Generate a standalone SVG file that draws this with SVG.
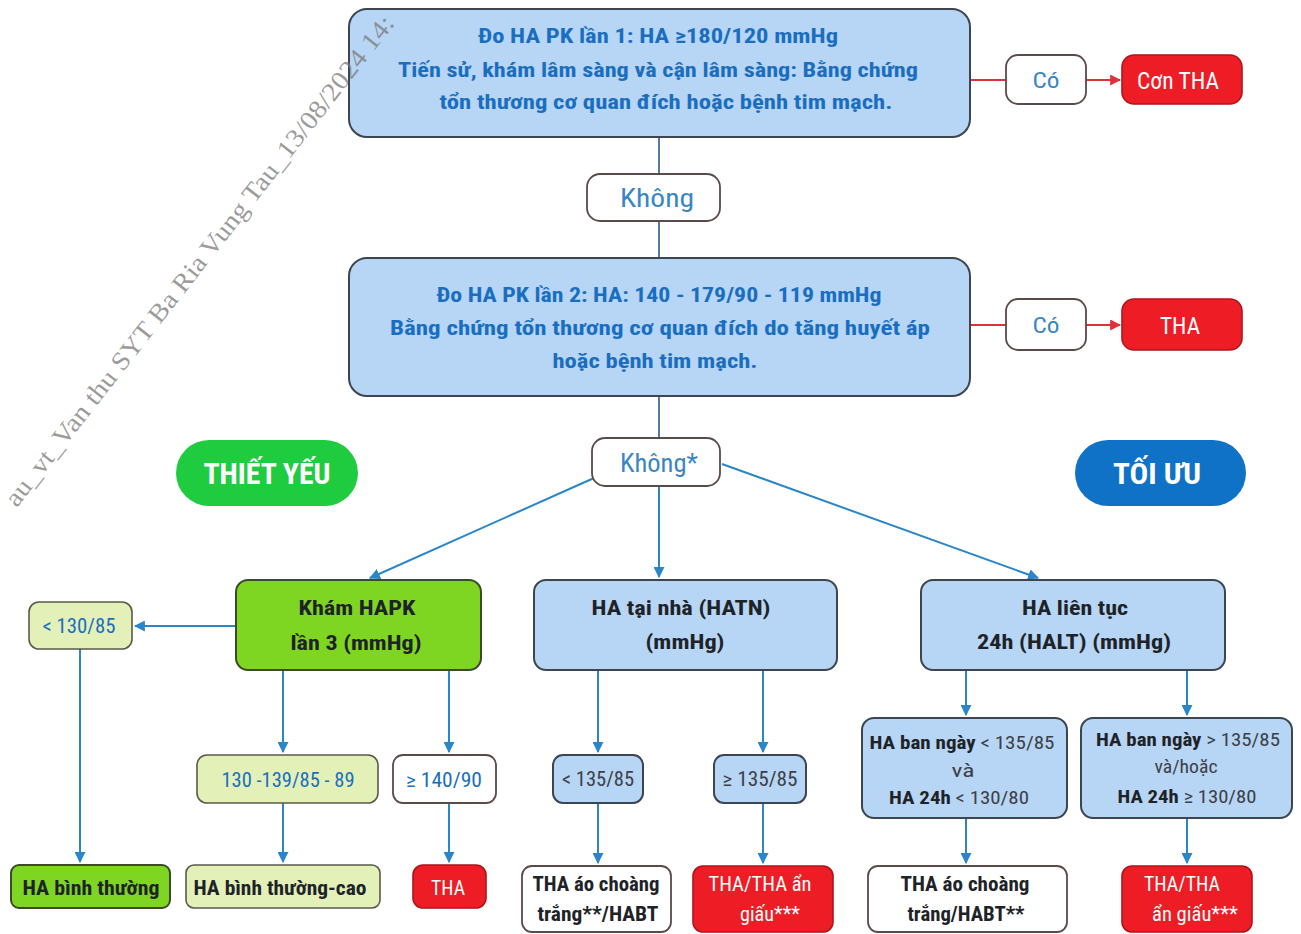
<svg xmlns="http://www.w3.org/2000/svg" width="1301" height="934" viewBox="0 0 1301 934">
<style>
.t{font-family:"Liberation Sans Narrow","Roboto Condensed","Liberation Sans",Arial,sans-serif;text-anchor:middle}
.b{font-weight:bold}
.blue{fill:#1a6ec0}
.dk{fill:#1e2328}
.lbl{fill:#3a86c4}
.wh{fill:#ffffff}
.gray{fill:#3c4048}
.nb{fill:#b7d5f4;stroke:#3d4550;stroke-width:2}
.ny{fill:#e3f1b8;stroke:#5a5a4a;stroke-width:1.6}
.ng{fill:#7fd622;stroke:#3c4a2c;stroke-width:2}
.nr{fill:#ee1c25;stroke:#b0141a;stroke-width:1.6}
.nw{fill:#ffffff;stroke:#5a4a4a;stroke-width:1.8}
.c{fill:none;stroke:#2a86c8;stroke-width:2}
.ck{fill:none;stroke:#2a5a8a;stroke-width:1.6}
.cr{fill:none;stroke:#e0303a;stroke-width:2}
</style>
<defs>
<marker id="ab" viewBox="0 0 10 10" refX="9" refY="5" markerWidth="5.5" markerHeight="5.5" orient="auto"><path d="M0,0L10,5L0,10z" fill="#2a86c8"/></marker>
<marker id="ar" viewBox="0 0 10 10" refX="9" refY="5" markerWidth="5.5" markerHeight="5.5" orient="auto"><path d="M0,0L10,5L0,10z" fill="#e0303a"/></marker>
</defs>
<rect width="1301" height="934" fill="#ffffff"/>

<g id="connectors">
<path class="ck" d="M659,137V174M659,221V258M659,396V438"/>
<path class="cr" d="M970,80H1006"/>
<path class="cr" d="M1086,80H1120" marker-end="url(#ar)"/>
<path class="cr" d="M970,325H1006"/>
<path class="cr" d="M1086,325H1120" marker-end="url(#ar)"/>
<path class="c" d="M659,486V577" marker-end="url(#ab)"/>
<path class="c" d="M594,478L370,578" marker-end="url(#ab)"/>
<path class="c" d="M722,464L1038,578" marker-end="url(#ab)"/>
<path class="c" d="M236,626H135" marker-end="url(#ab)"/>
<path class="c" d="M80,649V862" marker-end="url(#ab)"/>
<path class="c" d="M283,670V752" marker-end="url(#ab)"/>
<path class="c" d="M449,670V752" marker-end="url(#ab)"/>
<path class="c" d="M283,803V862" marker-end="url(#ab)"/>
<path class="c" d="M449,803V862" marker-end="url(#ab)"/>
<path class="c" d="M598,670V752" marker-end="url(#ab)"/>
<path class="c" d="M763,670V752" marker-end="url(#ab)"/>
<path class="c" d="M598,803V863" marker-end="url(#ab)"/>
<path class="c" d="M763,803V863" marker-end="url(#ab)"/>
<path class="c" d="M966,670V715" marker-end="url(#ab)"/>
<path class="c" d="M1187,670V715" marker-end="url(#ab)"/>
<path class="c" d="M966,818V863" marker-end="url(#ab)"/>
<path class="c" d="M1187,818V863" marker-end="url(#ab)"/>
</g>

<g id="n-step1">
<rect class="nb" x="349" y="9" width="621" height="128" rx="18"/>
<text class="t b blue" x="658" y="43" font-size="21" textLength="360" lengthAdjust="spacingAndGlyphs">Đo HA PK lần 1: HA ≥180/120 mmHg</text>
<text class="t b blue" x="658" y="77" font-size="21" textLength="520" lengthAdjust="spacingAndGlyphs">Tiến sử, khám lâm sàng và cận lâm sàng: Bằng chứng</text>
<text class="t b blue" x="666" y="109" font-size="21" textLength="453" lengthAdjust="spacingAndGlyphs">tổn thương cơ quan đích hoặc bệnh tim mạch.</text>
</g>
<g id="n-co1">
<rect class="nw" x="1006" y="55" width="80" height="49" rx="12"/>
<text class="t lbl" x="1046" y="88" font-size="22" textLength="27" lengthAdjust="spacingAndGlyphs">Có</text>
</g>
<g id="n-conTHA">
<rect class="nr" x="1122" y="55" width="120" height="49" rx="12"/>
<text class="t wh" x="1178" y="89" font-size="24" textLength="82" lengthAdjust="spacingAndGlyphs">Cơn THA</text>
</g>
<g id="n-khong1">
<rect class="nw" x="587" y="174" width="133" height="47" rx="13"/>
<text class="t lbl" x="657" y="207" font-size="25" textLength="74" lengthAdjust="spacingAndGlyphs">Không</text>
</g>

<g id="n-step2">
<rect class="nb" x="349" y="258" width="621" height="138" rx="18"/>
<text class="t b blue" x="659" y="302" font-size="21" textLength="445" lengthAdjust="spacingAndGlyphs">Đo HA PK lần 2: HA: 140 - 179/90 - 119 mmHg</text>
<text class="t b blue" x="660" y="335" font-size="21" textLength="540" lengthAdjust="spacingAndGlyphs">Bằng chứng tổn thương cơ quan đích do tăng huyết áp</text>
<text class="t b blue" x="655" y="368" font-size="21" textLength="205" lengthAdjust="spacingAndGlyphs">hoặc bệnh tim mạch.</text>
</g>
<g id="n-co2">
<rect class="nw" x="1006" y="299" width="80" height="51" rx="12"/>
<text class="t lbl" x="1046" y="333" font-size="22" textLength="27" lengthAdjust="spacingAndGlyphs">Có</text>
</g>
<g id="n-THA1">
<rect class="nr" x="1122" y="299" width="120" height="51" rx="12"/>
<text class="t wh" x="1180" y="334" font-size="24" textLength="40" lengthAdjust="spacingAndGlyphs">THA</text>
</g>
<g id="n-khong2">
<rect class="nw" x="592" y="438" width="128" height="48" rx="13"/>
<text class="t lbl" x="659" y="472" font-size="25" textLength="78" lengthAdjust="spacingAndGlyphs">Không*</text>
</g>

<g id="n-thietyeu">
<rect x="176" y="440" width="182" height="66" rx="33" fill="#1fcb3f"/>
<text class="t b wh" x="267" y="484" font-size="30" textLength="127" lengthAdjust="spacingAndGlyphs">THIẾT YẾU</text>
</g>
<g id="n-toiuu">
<rect x="1075" y="440" width="171" height="66" rx="33" fill="#0f72c6"/>
<text class="t b wh" x="1157" y="484" font-size="30" textLength="88" lengthAdjust="spacingAndGlyphs">TỐI ƯU</text>
</g>

<g id="n-kham3">
<rect class="ng" x="236" y="580" width="245" height="90" rx="12"/>
<text class="t b dk" x="357" y="615" font-size="21" textLength="117" lengthAdjust="spacingAndGlyphs">Khám HAPK</text>
<text class="t b dk" x="356" y="650" font-size="21" textLength="131" lengthAdjust="spacingAndGlyphs">lần 3 (mmHg)</text>
</g>
<g id="n-hatn">
<rect class="nb" x="534" y="580" width="303" height="90" rx="12"/>
<text class="t b dk" x="681" y="615" font-size="21" textLength="179" lengthAdjust="spacingAndGlyphs">HA tại nhà (HATN)</text>
<text class="t b dk" x="685" y="649" font-size="21" textLength="79" lengthAdjust="spacingAndGlyphs">(mmHg)</text>
</g>
<g id="n-halt">
<rect class="nb" x="921" y="580" width="304" height="90" rx="12"/>
<text class="t b dk" x="1075" y="615" font-size="21" textLength="106" lengthAdjust="spacingAndGlyphs">HA liên tục</text>
<text class="t b dk" x="1074" y="649" font-size="21" textLength="194" lengthAdjust="spacingAndGlyphs">24h (HALT) (mmHg)</text>
</g>

<g id="n-lt130">
<rect class="ny" x="29" y="602" width="103" height="47" rx="10"/>
<text class="t blue" x="79" y="633" font-size="20" textLength="73" lengthAdjust="spacingAndGlyphs">&lt; 130/85</text>
</g>
<g id="n-130139">
<rect class="ny" x="197" y="755" width="181" height="48" rx="10"/>
<text class="t blue" x="288" y="787" font-size="20" textLength="133" lengthAdjust="spacingAndGlyphs">130 -139/85 - 89</text>
</g>
<g id="n-ge140">
<rect class="nw" x="393" y="755" width="103" height="48" rx="10"/>
<text class="t blue" x="444" y="787" font-size="20" textLength="76" lengthAdjust="spacingAndGlyphs">≥ 140/90</text>
</g>
<g id="n-habt">
<rect class="ng" x="11" y="865" width="159" height="43" rx="8"/>
<text class="t b dk" x="91" y="895" font-size="20" textLength="137" lengthAdjust="spacingAndGlyphs">HA bình thường</text>
</g>
<g id="n-habtcao">
<rect class="ny" x="186" y="865" width="194" height="43" rx="8"/>
<text class="t b dk" x="280" y="895" font-size="20" textLength="173" lengthAdjust="spacingAndGlyphs">HA bình thường-cao</text>
</g>
<g id="n-THA2">
<rect class="nr" x="413" y="865" width="73" height="43" rx="10"/>
<text class="t wh" x="448" y="895" font-size="20" textLength="34" lengthAdjust="spacingAndGlyphs">THA</text>
</g>

<g id="n-lt135">
<rect class="nb" x="553" y="755" width="90" height="48" rx="10"/>
<text class="t gray" x="598" y="786" font-size="20" textLength="72" lengthAdjust="spacingAndGlyphs">&lt; 135/85</text>
</g>
<g id="n-ge135">
<rect class="nb" x="714" y="755" width="92" height="48" rx="10"/>
<text class="t gray" x="760" y="786" font-size="20" textLength="75" lengthAdjust="spacingAndGlyphs">≥ 135/85</text>
</g>
<g id="n-aochoang1">
<rect class="nw" x="522" y="866" width="149" height="66" rx="10"/>
<text class="t b dk" x="596" y="891" font-size="20" textLength="127" lengthAdjust="spacingAndGlyphs">THA áo choàng</text>
<text class="t b dk" x="598" y="921" font-size="20" textLength="121" lengthAdjust="spacingAndGlyphs">trắng**/HABT</text>
</g>
<g id="n-angiau1">
<rect class="nr" x="693" y="866" width="140" height="66" rx="10"/>
<text class="t wh" x="760" y="891" font-size="20" textLength="103" lengthAdjust="spacingAndGlyphs">THA/THA ẩn</text>
<text class="t wh" x="770" y="921" font-size="20" textLength="60" lengthAdjust="spacingAndGlyphs">giấu***</text>
</g>

<g id="n-ngay1">
<rect class="nb" x="862" y="718" width="205" height="100" rx="12"/>
<text class="t dk" x="962" y="749" font-size="19" textLength="185" lengthAdjust="spacingAndGlyphs"><tspan class="b">HA ban ngày</tspan><tspan fill="#3c4048"> &lt; 135/85</tspan></text>
<text class="t gray" x="963" y="777" font-size="19" textLength="23" lengthAdjust="spacingAndGlyphs">và</text>
<text class="t dk" x="959" y="804" font-size="19" textLength="140" lengthAdjust="spacingAndGlyphs"><tspan class="b">HA 24h</tspan><tspan fill="#3c4048"> &lt; 130/80</tspan></text>
</g>
<g id="n-ngay2">
<rect class="nb" x="1081" y="718" width="211" height="100" rx="12"/>
<text class="t dk" x="1188" y="746" font-size="19" textLength="184" lengthAdjust="spacingAndGlyphs"><tspan class="b">HA ban ngày</tspan><tspan fill="#3c4048"> &gt; 135/85</tspan></text>
<text class="t gray" x="1186" y="773" font-size="19" textLength="63" lengthAdjust="spacingAndGlyphs">và/hoặc</text>
<text class="t dk" x="1187" y="803" font-size="19" textLength="139" lengthAdjust="spacingAndGlyphs"><tspan class="b">HA 24h</tspan><tspan fill="#3c4048"> ≥ 130/80</tspan></text>
</g>
<g id="n-aochoang2">
<rect class="nw" x="868" y="866" width="199" height="66" rx="10"/>
<text class="t b dk" x="965" y="891" font-size="20" textLength="129" lengthAdjust="spacingAndGlyphs">THA áo choàng</text>
<text class="t b dk" x="966" y="921" font-size="20" textLength="117" lengthAdjust="spacingAndGlyphs">trắng/HABT**</text>
</g>
<g id="n-angiau2">
<rect class="nr" x="1122" y="866" width="130" height="66" rx="10"/>
<text class="t wh" x="1182" y="891" font-size="20" textLength="76" lengthAdjust="spacingAndGlyphs">THA/THA</text>
<text class="t wh" x="1195" y="921" font-size="20" textLength="86" lengthAdjust="spacingAndGlyphs">ẩn giấu***</text>
</g>

<g id="watermark">
<text x="0" y="0" transform="translate(206,266) rotate(-52)" font-family="Liberation Serif,serif" font-size="26" fill="#7a7a7a" fill-opacity="0.75" text-anchor="middle" textLength="615" lengthAdjust="spacingAndGlyphs">au_vt_Van thu SYT Ba Ria Vung Tau_13/08/2024 14:</text>
</g>
</svg>
